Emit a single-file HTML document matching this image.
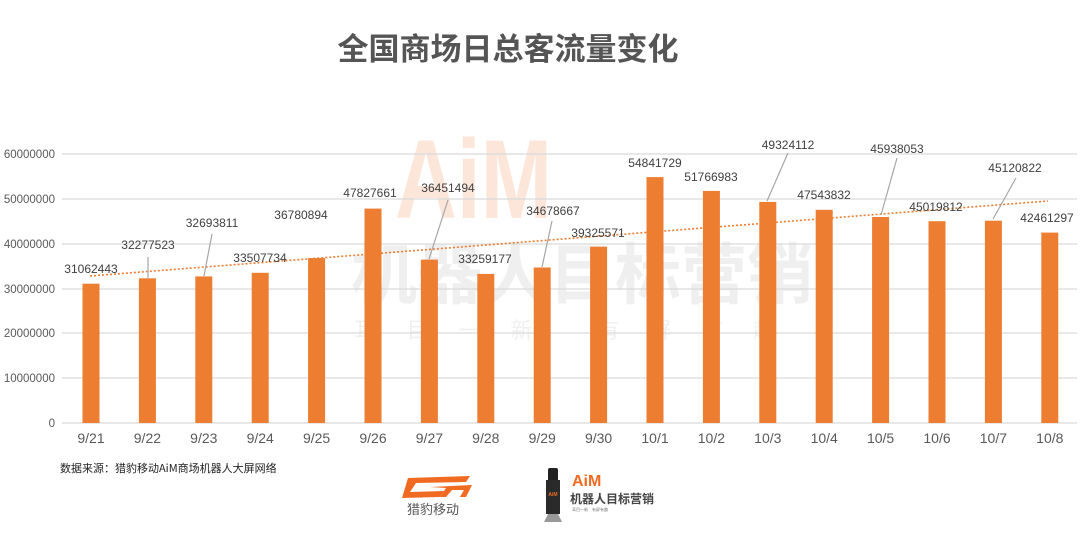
<!DOCTYPE html>
<html><head><meta charset="utf-8"><style>
html,body{margin:0;padding:0;background:#fff;}
svg{display:block;}
text{font-family:"Liberation Sans","Noto Sans CJK SC",sans-serif;}
</style></head><body>
<svg width="1080" height="535" viewBox="0 0 1080 535" xmlns="http://www.w3.org/2000/svg">
<rect width="1080" height="535" fill="#fff"/>
<text x="508" y="60" text-anchor="middle" font-size="31" font-weight="bold" fill="#555" style="font-family:'Noto Sans CJK SC',sans-serif">全国商场日总客流量变化</text>
<!-- watermark -->
<text x="395" y="218" font-size="112" font-weight="bold" fill="#fce6da" textLength="157" lengthAdjust="spacingAndGlyphs">AiM</text>
<text x="582" y="298" text-anchor="middle" font-size="66" font-weight="bold" fill="#efefef" style="font-family:'Noto Sans CJK SC',sans-serif">机器人目标营销</text>
<text x="580" y="338" text-anchor="middle" font-size="22" fill="#f0f0f0" letter-spacing="30" style="font-family:'Noto Sans CJK SC',sans-serif">耳目一新  有屏有趣</text>
<!-- grid -->
<g stroke="#d9d9d9" stroke-width="1.3">
<line x1="62" x2="1077" y1="154" y2="154"/><line x1="62" x2="1077" y1="199" y2="199"/>
<line x1="62" x2="1077" y1="244" y2="244"/><line x1="62" x2="1077" y1="289" y2="289"/>
<line x1="62" x2="1077" y1="333" y2="333"/><line x1="62" x2="1077" y1="378" y2="378"/>
<line x1="62" x2="1077" y1="423" y2="423"/>
</g>
<g font-size="11.5" fill="#595959" text-anchor="end">
<text x="55" y="158">60000000</text><text x="55" y="203">50000000</text><text x="55" y="248">40000000</text>
<text x="55" y="293">30000000</text><text x="55" y="337">20000000</text><text x="55" y="382">10000000</text><text x="55" y="427">0</text>
</g>
<g fill="#ed7d31">
<rect x="82.5" y="283.7" width="17" height="139.3"/>
<rect x="138.9" y="278.3" width="17" height="144.7"/>
<rect x="195.3" y="276.4" width="17" height="146.6"/>
<rect x="251.7" y="272.8" width="17" height="150.2"/>
<rect x="308.1" y="258.1" width="17" height="164.9"/>
<rect x="364.5" y="208.6" width="17" height="214.4"/>
<rect x="420.9" y="259.6" width="17" height="163.4"/>
<rect x="477.3" y="273.9" width="17" height="149.1"/>
<rect x="533.7" y="267.5" width="17" height="155.5"/>
<rect x="590.1" y="246.7" width="17" height="176.3"/>
<rect x="646.5" y="177.1" width="17" height="245.9"/>
<rect x="702.9" y="190.9" width="17" height="232.1"/>
<rect x="759.3" y="201.9" width="17" height="221.1"/>
<rect x="815.7" y="209.8" width="17" height="213.2"/>
<rect x="872.1" y="217" width="17" height="206"/>
<rect x="928.5" y="221.2" width="17" height="201.8"/>
<rect x="984.9" y="220.7" width="17" height="202.3"/>
<rect x="1041.3" y="232.6" width="17" height="190.4"/>
</g>
<line x1="90" y1="276" x2="1048" y2="201" stroke="#ed7d31" stroke-width="1.6" stroke-dasharray="2,2"/>
<g stroke="#a6a6a6" stroke-width="1.2">
<line x1="148" y1="257" x2="148" y2="278"/>
<line x1="212" y1="234" x2="204" y2="276"/>
<line x1="448" y1="200" x2="429" y2="259"/>
<line x1="552" y1="221" x2="542" y2="267"/>
<line x1="788" y1="153" x2="767" y2="201"/>
<line x1="897" y1="158" x2="881" y2="215"/>
<line x1="1016" y1="178" x2="993" y2="219"/>
</g>
<g font-size="12" fill="#404040" text-anchor="middle">
<text x="91" y="273">31062443</text>
<text x="148" y="249">32277523</text>
<text x="212" y="227">32693811</text>
<text x="260" y="262">33507734</text>
<text x="301" y="219">36780894</text>
<text x="370" y="197">47827661</text>
<text x="448" y="192">36451494</text>
<text x="485" y="263">33259177</text>
<text x="553" y="215">34678667</text>
<text x="598" y="237">39325571</text>
<text x="655" y="167">54841729</text>
<text x="711" y="181">51766983</text>
<text x="788" y="149">49324112</text>
<text x="824" y="199">47543832</text>
<text x="897" y="153">45938053</text>
<text x="936" y="211">45019812</text>
<text x="1015" y="172">45120822</text>
<text x="1047" y="222">42461297</text>
</g>
<g font-size="14" fill="#595959" text-anchor="middle">
<text x="91" y="443">9/21</text><text x="147.4" y="443">9/22</text><text x="203.8" y="443">9/23</text>
<text x="260.2" y="443">9/24</text><text x="316.6" y="443">9/25</text><text x="373" y="443">9/26</text>
<text x="429.4" y="443">9/27</text><text x="485.8" y="443">9/28</text><text x="542.2" y="443">9/29</text>
<text x="598.6" y="443">9/30</text><text x="655" y="443">10/1</text><text x="711.4" y="443">10/2</text>
<text x="767.8" y="443">10/3</text><text x="824.2" y="443">10/4</text><text x="880.6" y="443">10/5</text>
<text x="937" y="443">10/6</text><text x="993.4" y="443">10/7</text><text x="1049.8" y="443">10/8</text>
</g>
<text x="60" y="472" font-size="11" fill="#222" style="font-family:'Noto Sans CJK SC',sans-serif">数据来源：猎豹移动AiM商场机器人大屏网络</text>
<!-- cm logo -->
<g fill="#f06a22">
<path d="M408 478 L470 476 L466 482 L416 483 L410 492 L444 491 L440 497 L402 498 Z"/>
<path d="M430 487 L472 485 L466 497 L460 497 L464 490 L452 490 L446 497 L440 497 L446 488 Z"/>
</g>
<text x="433" y="514" text-anchor="middle" font-size="13" fill="#555" style="font-family:'Noto Sans CJK SC',sans-serif">猎豹移动</text>
<!-- robot logo -->
<rect x="548" y="468" width="10" height="14" rx="2" fill="#222"/>
<rect x="546" y="480" width="14" height="34" fill="#2a2a2a"/>
<text x="553" y="496" text-anchor="middle" font-size="5" fill="#f06a22" font-weight="bold">AiM</text>
<path d="M548 514 L558 514 L562 522 L544 522 Z" fill="#999"/>
<text x="572" y="486" font-size="16" font-weight="bold" fill="#f06a22">AiM</text>
<text x="570" y="503" font-size="12" font-weight="bold" fill="#444" style="font-family:'Noto Sans CJK SC',sans-serif">机器人目标营销</text>
<text x="572" y="511" font-size="4" fill="#777" style="font-family:'Noto Sans CJK SC',sans-serif">耳目一新　有屏有趣</text>
</svg>
</body></html>
